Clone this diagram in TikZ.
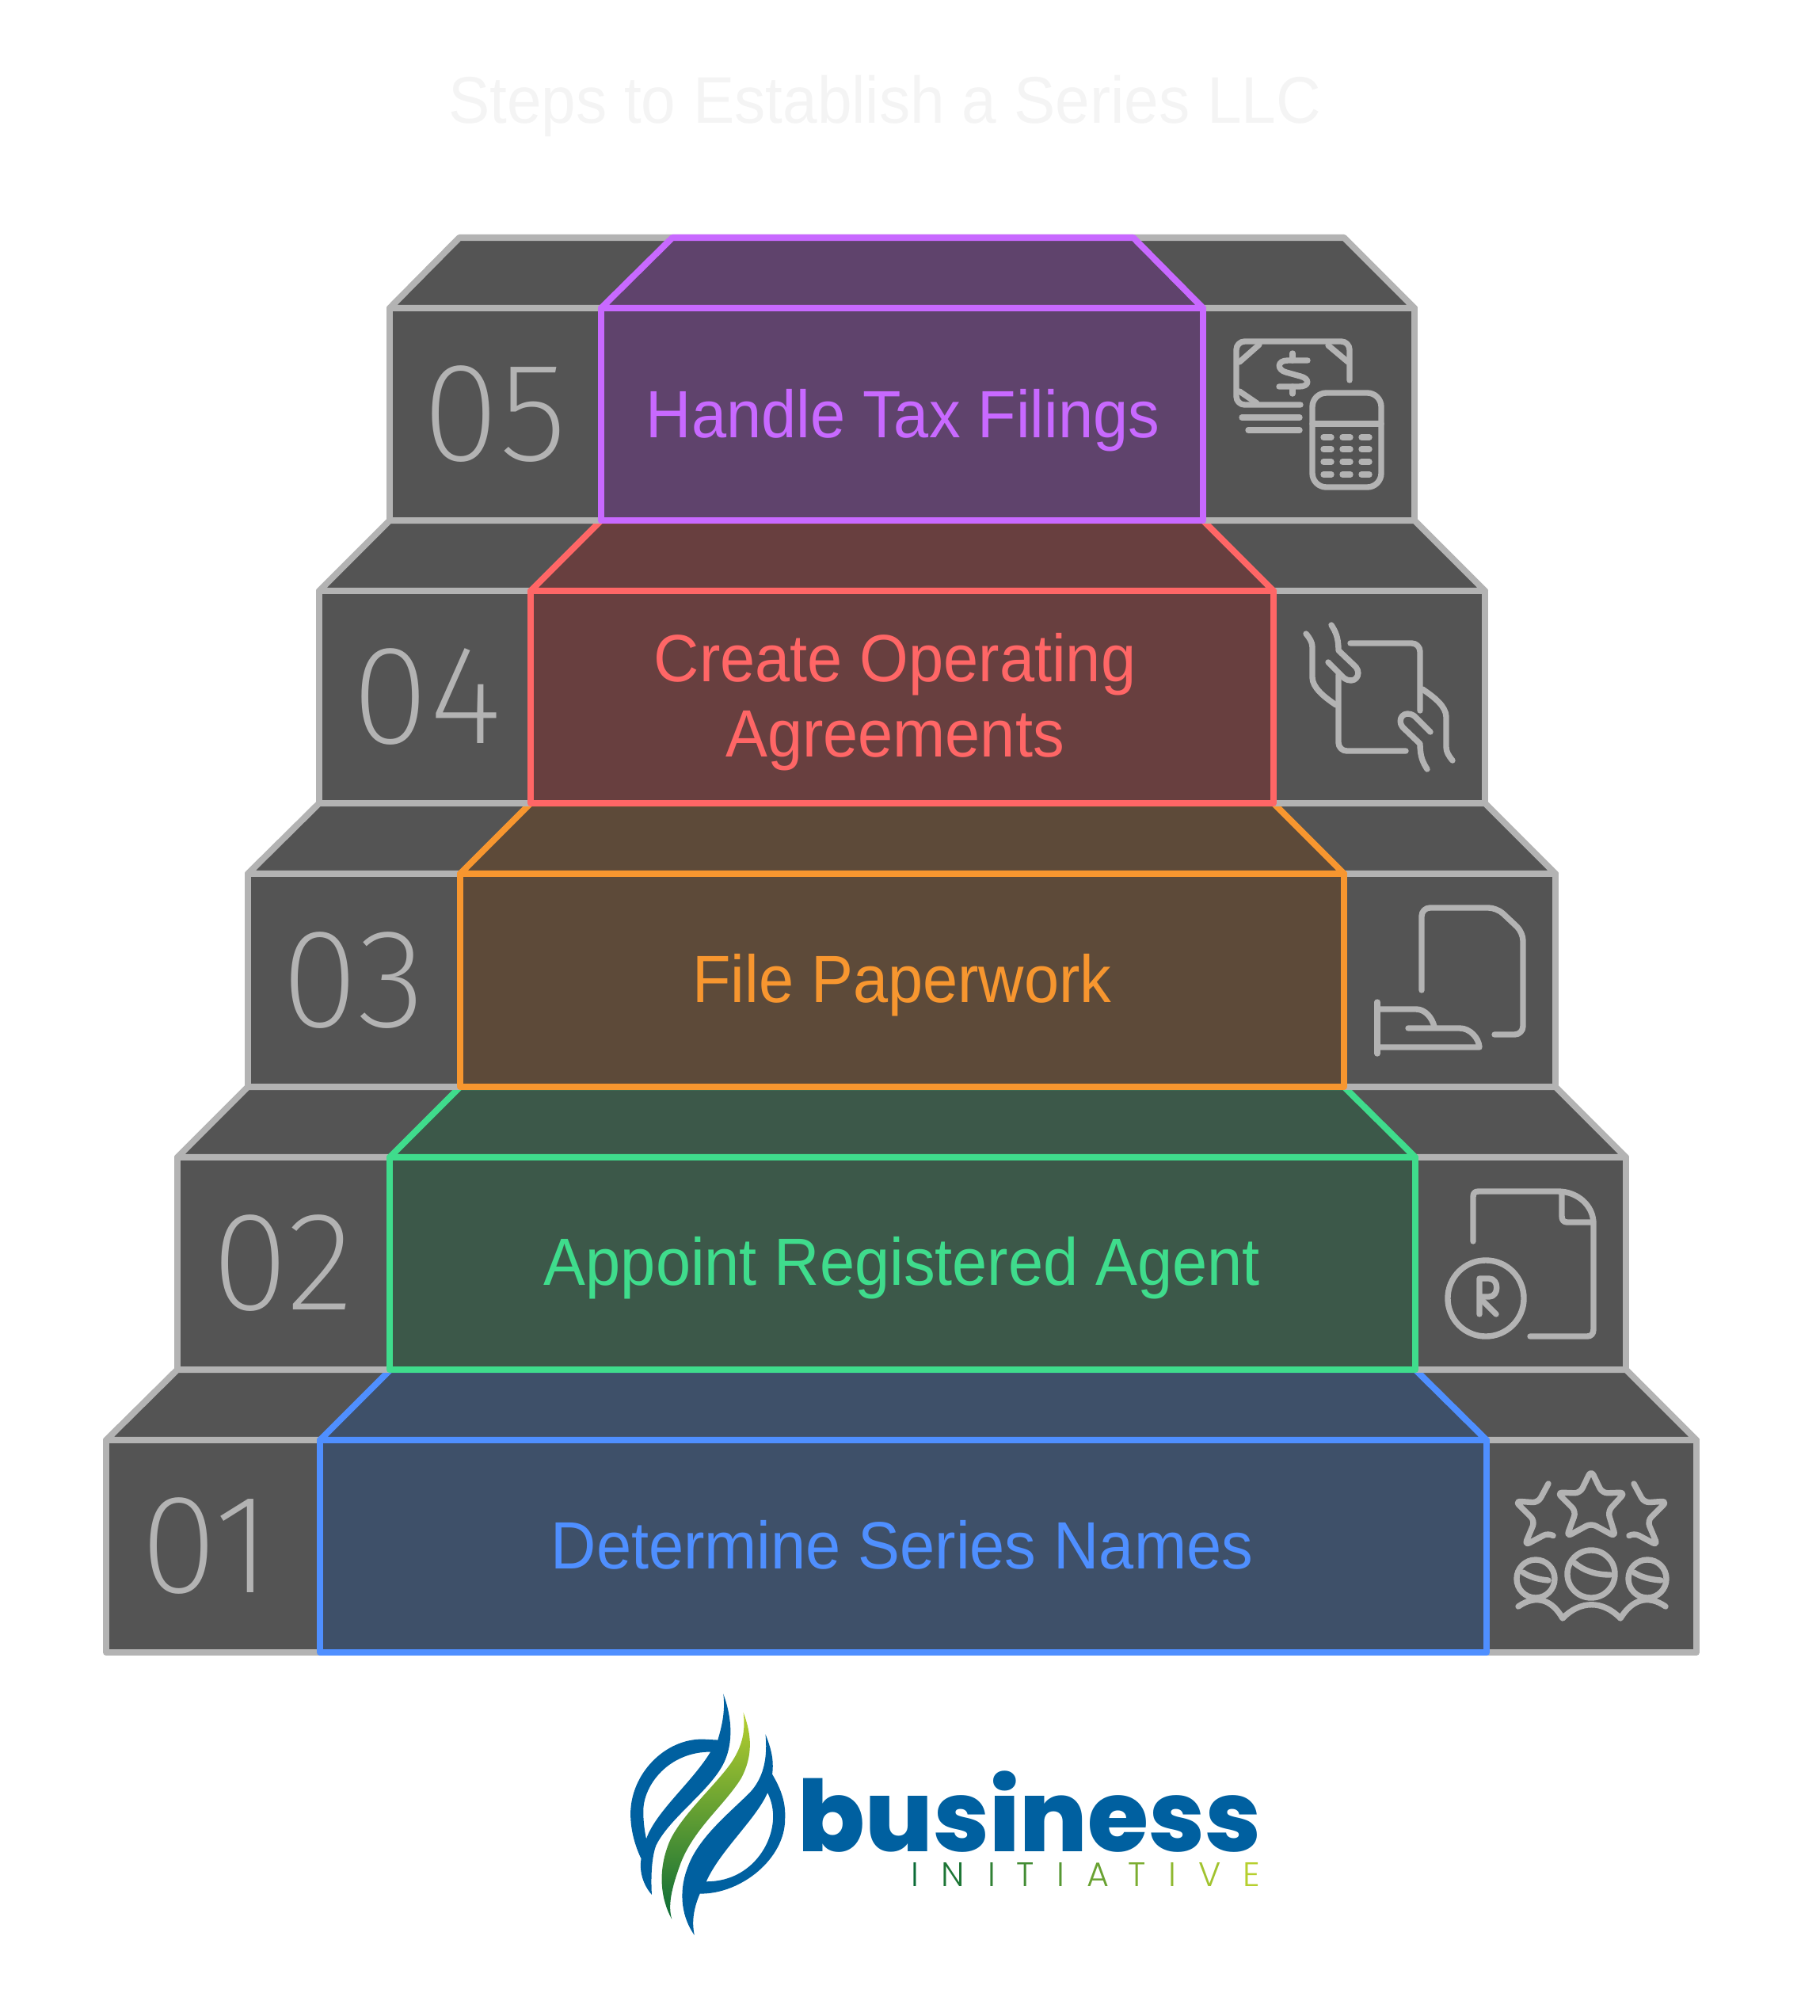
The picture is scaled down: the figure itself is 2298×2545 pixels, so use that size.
\documentclass[tikz,border=0pt]{standalone}
\usepackage{fontspec}
\usepackage{tikz}
\setmainfont{Liberation Sans}[FakeStretch=0.94]
\newfontfamily\numfont{Fira Sans}[UprightFont=* ExtraLight]
\newfontfamily\logofont{Poppins}[UprightFont=* ExtraBold]
\newfontfamily\subfont{Poppins}[UprightFont=* Light]
\definecolor{stepfill}{HTML}{545454}
\definecolor{stepline}{HTML}{B3B3B3}
\definecolor{purpleline}{HTML}{C869FF}
\definecolor{purplefill}{HTML}{5F436C}
\definecolor{redline}{HTML}{FF6666}
\definecolor{redfill}{HTML}{683F3F}
\definecolor{orangeline}{HTML}{F7962F}
\definecolor{orangefill}{HTML}{5D4A39}
\definecolor{greenline}{HTML}{3FDC8C}
\definecolor{greenfill}{HTML}{3C5849}
\definecolor{blueline}{HTML}{4F8FFF}
\definecolor{bluefill}{HTML}{3E5069}
\definecolor{titlegray}{HTML}{F4F4F4}
\definecolor{logoblue}{HTML}{0060A0}
\definecolor{logolime}{HTML}{B6CF2E}
\definecolor{logogreen}{HTML}{0B6B37}

\begin{document}
\begin{tikzpicture}[x=0.01cm, y=-0.01cm,
  block/.style={draw=stepline, fill=stepfill, line width=2.3pt, line join=round},
  purpleblock/.style={block, draw=purpleline, fill=purplefill},
  redblock/.style={block, draw=redline, fill=redfill},
  orangeblock/.style={block, draw=orangeline, fill=orangefill},
  greenblock/.style={block, draw=greenline, fill=greenfill},
  blueblock/.style={block, draw=blueline, fill=bluefill},
  step text/.style={anchor=base, font=\fontsize{24}{27}\selectfont, align=center, inner sep=0pt},
  step num/.style={anchor=base, font=\numfont\fontsize{50.5}{51}\selectfont, text=stepline, inner sep=0pt},
  icon/.style={draw=stepline, line width=2.1pt, line cap=round, line join=round},
  sub letter/.style={anchor=base, font=\subfont\fontsize{12.2}{13}\selectfont, inner sep=0pt}]
  \useasboundingbox (0, 0) rectangle (2298, 2545);

  % title
  \node (title) [anchor=base, inner sep=0pt, text=titlegray, font=\fontsize{23.7}{26}\selectfont] at (1117, 155) {Steps to Establish a Series LLC};

  % step 01
  \draw[block] (134, 1818) -- (224, 1729) -- (2053, 1729) -- (2142, 1818) -- cycle;
  \draw[block] (134, 1818) rectangle (2142, 2086);
  \draw[blueblock] (404, 1818) -- (493, 1729) -- (1787, 1729) -- (1877, 1818) -- cycle;
  \draw[blueblock] (404, 1818) rectangle (1877, 2086);

  % step 02
  \draw[block] (224, 1461) -- (313, 1372) -- (1964, 1372) -- (2053, 1461) -- cycle;
  \draw[block] (224, 1461) rectangle (2053, 1729);
  \draw[greenblock] (492, 1461) -- (581, 1372) -- (1697, 1372) -- (1787, 1461) -- cycle;
  \draw[greenblock] (492, 1461) rectangle (1787, 1729);

  % step 03
  \draw[block] (313, 1103) -- (403, 1014) -- (1875, 1014) -- (1964, 1103) -- cycle;
  \draw[block] (313, 1103) rectangle (1964, 1372);
  \draw[orangeblock] (581, 1103) -- (670, 1014) -- (1608, 1014) -- (1697, 1103) -- cycle;
  \draw[orangeblock] (581, 1103) rectangle (1697, 1372);

  % step 04
  \draw[block] (403, 746) -- (492, 657) -- (1786, 657) -- (1875, 746) -- cycle;
  \draw[block] (403, 746) rectangle (1875, 1014);
  \draw[redblock] (670, 746) -- (759, 657) -- (1519, 657) -- (1608, 746) -- cycle;
  \draw[redblock] (670, 746) rectangle (1608, 1014);

  % step 05
  \draw[block] (492, 389) -- (580, 300) -- (1697, 300) -- (1786, 389) -- cycle;
  \draw[block] (492, 389) rectangle (1786, 657);
  \draw[purpleblock] (759, 389) -- (849, 300) -- (1431, 300) -- (1519, 389) -- cycle;
  \draw[purpleblock] (759, 389) rectangle (1519, 657);

  % labels
  \node (tax) [step text, text=purpleline] at (1140, 552) {Handle Tax Filings};
  \node (agreements) [step text, anchor=center, text=redline] at (1130, 886) {Create Operating\\Agreements};
  \node (paperwork) [step text, text=orangeline] at (1139, 1265) {File Paperwork};
  \node (agent) [step text, text=greenline] at (1139, 1622) {Appoint Registered Agent};
  \node (names) [step text, text=blueline] at (1139, 1980) {Determine Series Names};

  \node (n5) [step num] at (625, 581) {05};
  \node (n4) [step num] at (539, 938) {04};
  \node (n3) [step num] at (446, 1296) {03};
  \node (n2) [step num] at (357, 1653) {02};
  \node (n1) [step num] at (260, 2010) {01};

  % money and calculator
  \draw[icon, rounded corners=3pt] (1704, 480) -- (1704, 431) -- (1561, 431) -- (1561, 511) -- (1642, 511);
  \draw[icon] (1568, 527) -- (1641, 527);
  \draw[icon] (1576, 543) -- (1641, 543);
  \draw[icon] (1590, 435) -- (1565, 457);
  \draw[icon] (1677, 436) -- (1702, 457);
  \draw[icon] (1565, 494) -- (1587, 509);
  \draw[icon] (1651, 455) -- (1626, 455) .. controls (1612, 455) and (1612, 467) .. (1624, 470) -- (1642, 475) .. controls (1654, 478) and (1654, 488) .. (1640, 488) -- (1615, 488);
  \draw[icon] (1632, 446) -- (1632, 455);
  \draw[icon] (1632, 488) -- (1632, 497);
  \draw[icon, rounded corners=5pt] (1657, 496) rectangle (1744, 615);
  \draw[icon] (1657, 535) -- (1744, 535);
  \draw[icon] (1671, 552) -- (1681, 552);
  \draw[icon] (1695, 552) -- (1705, 552);
  \draw[icon] (1719, 552) -- (1729, 552);
  \draw[icon] (1671, 567) -- (1681, 567);
  \draw[icon] (1695, 567) -- (1705, 567);
  \draw[icon] (1719, 567) -- (1729, 567);
  \draw[icon] (1671, 583) -- (1681, 583);
  \draw[icon] (1695, 583) -- (1705, 583);
  \draw[icon] (1719, 583) -- (1729, 583);
  \draw[icon] (1671, 599) -- (1681, 599);
  \draw[icon] (1695, 599) -- (1705, 599);
  \draw[icon] (1719, 599) -- (1729, 599);

  % hands and sheet
  \draw[icon, rounded corners=3pt] (1705, 812) -- (1793, 812) -- (1793, 897);
  \draw[icon, rounded corners=3pt] (1690, 852) -- (1690, 948) -- (1775, 948);
  \draw[icon] (1649, 800) .. controls (1654, 806) and (1657, 811) .. (1657, 817) -- (1657, 855) .. controls (1657, 868) and (1672, 880) .. (1687, 890);
  \draw[icon] (1681, 789) .. controls (1686, 797) and (1690, 804) .. (1690, 821) -- (1712, 842) .. controls (1720, 852) and (1710, 865) .. (1697, 856) -- (1677, 836);
  \draw[icon, rotate around={180:(1741.5, 880)}] (1649, 800) .. controls (1654, 806) and (1657, 811) .. (1657, 817) -- (1657, 855) .. controls (1657, 868) and (1672, 880) .. (1687, 890);
  \draw[icon, rotate around={180:(1741.5, 880)}] (1681, 789) .. controls (1686, 797) and (1690, 804) .. (1690, 821) -- (1712, 842) .. controls (1720, 852) and (1710, 865) .. (1697, 856) -- (1677, 836);

  % hand with paper
  \draw[icon, rounded corners=3pt] (1795, 1250) -- (1795, 1146) -- (1890, 1146) -- (1923, 1177) -- (1923, 1306) -- (1887, 1306);
  \draw[icon] (1739, 1265) -- (1739, 1330);
  \draw[icon] (1742, 1274) -- (1788, 1274) .. controls (1799, 1274) and (1808, 1284) .. (1811, 1296);
  \draw[icon] (1778, 1298) -- (1843, 1298) .. controls (1856, 1298) and (1867, 1310) .. (1868, 1322) -- (1742, 1322);

  % sheet with mark
  \draw[icon] (1860, 1567) -- (1860, 1511) .. controls (1860, 1506) and (1862, 1504) .. (1867, 1504) -- (1967, 1504) .. controls (1992, 1504) and (2012, 1522) .. (2012, 1545) -- (2012, 1678) .. controls (2012, 1684) and (2009, 1687) .. (2004, 1687) -- (1932, 1687);
  \draw[icon] (1972, 1506) -- (1972, 1535) .. controls (1972, 1540) and (1974, 1543) .. (1979, 1543) -- (2010, 1543);
  \node (mark) [draw=stepline, line width=2.1pt, circle, minimum size=0.96cm, inner sep=0pt] at (1876, 1639) {};
  \draw[icon] (1868, 1659) -- (1868, 1614) -- (1880, 1614) .. controls (1893, 1614) and (1893, 1637) .. (1880, 1637) -- (1868, 1637);
  \draw[icon] (1872, 1642) -- (1889, 1659);

  % stars and people
  \draw[icon, rounded corners=2pt] (2009, 1856) -- (2023, 1885) -- (2052, 1884) -- (2030, 1908) -- (2040, 1940) -- (2009, 1923) -- (1978, 1940) -- (1990, 1908) -- (1966, 1884) -- (1995, 1885) -- cycle;
  \draw[icon, rounded corners=2pt] (1955, 1873) -- (1942, 1897) -- (1913, 1895) -- (1938, 1920) -- (1925, 1951) -- (1955, 1935) -- (1960, 1938);
  \draw[icon, rounded corners=2pt] (2063, 1873) -- (2076, 1897) -- (2105, 1895) -- (2080, 1920) -- (2093, 1951) -- (2063, 1935) -- (2058, 1938);
  \node (head2) [draw=stepline, line width=2.1pt, circle, minimum size=0.6cm, inner sep=0pt] at (2009, 1987) {};
  \node (head1) [draw=stepline, line width=2.1pt, circle, minimum size=0.48cm, inner sep=0pt] at (1939, 1993) {};
  \node (head3) [draw=stepline, line width=2.1pt, circle, minimum size=0.48cm, inner sep=0pt] at (2080, 1993) {};
  \draw[icon] (1988, 1973) .. controls (2000, 1983) and (2015, 1988) .. (2033, 1988);
  \draw[icon] (1923, 1985) .. controls (1932, 1991) and (1943, 1994) .. (1955, 1995);
  \draw[icon] (2063, 1985) .. controls (2072, 1991) and (2084, 1994) .. (2097, 1995);
  \draw[icon] (1917, 2028) .. controls (1940, 2012) and (1960, 2020) .. (1973, 2043) .. controls (1995, 2020) and (2024, 2020) .. (2046, 2043) .. controls (2060, 2020) and (2080, 2012) .. (2103, 2028);

  % logo
  \begin{scope}[shift={(780, 2130)}, x=0.005376cm, y=-0.003333cm]
    \fill[logoblue, even odd rule] (248, 25) .. controls (272, 130) and (270, 230) .. (245, 300) .. controls (210, 400) and (120, 500) .. (90, 600) .. controls (78, 650) and (78, 740) .. (80, 787) .. controls (60, 750) and (50, 700) .. (55, 650) .. controls (40, 600) and (30, 540) .. (30, 480) .. controls (30, 330) and (110, 195) .. (200, 197) -- (235, 200) .. controls (248, 130) and (252, 80) .. (248, 25) -- cycle
      (218, 245) .. controls (120, 245) and (60, 370) .. (60, 470) .. controls (60, 510) and (63, 545) .. (67, 575) .. controls (90, 470) and (175, 360) .. (218, 245) -- cycle;
    \fill[logoblue, even odd rule] (347, 178) .. controls (365, 250) and (366, 290) .. (363, 330) .. controls (385, 390) and (395, 440) .. (393, 500) .. controls (393, 650) and (290, 785) .. (193, 783) .. controls (175, 850) and (175, 900) .. (180, 940) .. controls (145, 860) and (145, 760) .. (165, 680) .. controls (190, 570) and (260, 480) .. (310, 400) .. controls (345, 340) and (352, 260) .. (347, 178) -- cycle
      (352, 400) .. controls (325, 500) and (240, 620) .. (208, 737) .. controls (310, 737) and (365, 600) .. (365, 490) .. controls (365, 450) and (358, 420) .. (352, 400) -- cycle;
    \shade[top color=logolime, middle color=logolime!45!logogreen, bottom color=logogreen] (295, 95) .. controls (315, 180) and (318, 260) .. (290, 345) .. controls (250, 450) and (175, 540) .. (145, 680) .. controls (125, 770) and (118, 830) .. (127, 880) .. controls (100, 800) and (95, 700) .. (118, 600) .. controls (140, 500) and (225, 380) .. (265, 290) .. controls (295, 220) and (300, 160) .. (295, 95) -- cycle;
  \end{scope}
  \node (business) [anchor=base, inner sep=0pt, text=logoblue, font=\logofont\fontsize{35.5}{38}\selectfont] at (1300, 2337) {business};
  \node (i1) [sub letter, text=logogreen] at (1155, 2381) {I};
  \node (n1l) [sub letter, text=logolime!11!logogreen] at (1203, 2381) {N};
  \node (i2) [sub letter, text=logolime!22!logogreen] at (1252, 2381) {I};
  \node (t1) [sub letter, text=logolime!33!logogreen] at (1295, 2381) {T};
  \node (i3) [sub letter, text=logolime!44!logogreen] at (1339, 2381) {I};
  \node (a1) [sub letter, text=logolime!55!logogreen] at (1386, 2381) {A};
  \node (t2) [sub letter, text=logolime!66!logogreen] at (1436, 2381) {T};
  \node (i4) [sub letter, text=logolime!77!logogreen] at (1480, 2381) {I};
  \node (v1) [sub letter, text=logolime!88!logogreen] at (1528, 2381) {V};
  \node (e1) [sub letter, text=logolime] at (1580, 2381) {E};
\end{tikzpicture}
\end{document}
